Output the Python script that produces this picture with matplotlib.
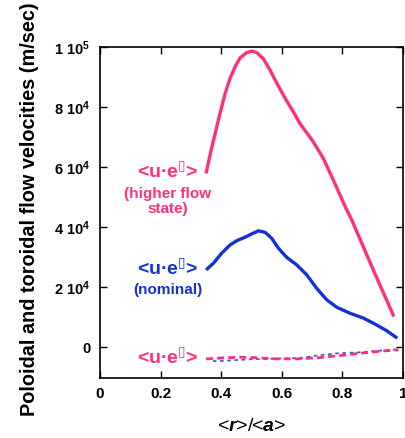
import matplotlib
matplotlib.use("Agg")
import matplotlib.pyplot as plt

plt.rcParams['font.family'] = ['Liberation Sans', 'DejaVu Sans']
plt.rcParams['font.weight'] = 'bold'
plt.rcParams['mathtext.fontset'] = 'custom'
plt.rcParams['mathtext.rm'] = 'Liberation Sans:bold'
plt.rcParams['mathtext.bf'] = 'Liberation Sans:bold'
plt.rcParams['mathtext.it'] = 'Liberation Sans:bold:italic'
plt.rcParams['mathtext.sf'] = 'DejaVu Sans:bold'

# higher flow state (toroidal), solid pink
r_high = [0.350, 0.363, 0.380, 0.396, 0.413, 0.429, 0.446, 0.462, 0.484,
          0.501, 0.517, 0.539, 0.561, 0.584, 0.611, 0.638, 0.660, 0.704,
          0.737, 0.770, 0.809, 0.831, 0.902, 0.970]
u_high = [57900, 64000, 71200, 77900, 84500, 89500, 93400, 96300, 98100,
          98600, 98100, 96100, 92300, 87800, 82900, 78400, 74500, 68400,
          62900, 55700, 46900, 42400, 25800, 10300]

# nominal (toroidal), solid blue
r_nom = [0.350, 0.374, 0.402, 0.429, 0.451, 0.479, 0.501, 0.523, 0.545,
         0.567, 0.589, 0.616, 0.649, 0.682, 0.715, 0.748, 0.781, 0.825,
         0.869, 0.913, 0.946, 0.981]
u_nom = [25800, 28000, 31400, 34100, 35500, 36700, 37800, 38800, 38300,
         36300, 33000, 30000, 27500, 24200, 19700, 15900, 13400, 11400,
         9800, 7500, 5600, 3100]

# poloidal, higher flow state (pink dashed)
r_pol_high = [0.350, 0.400, 0.460, 0.520, 0.580, 0.650, 0.720, 0.790, 0.860, 0.930, 0.985]
u_pol_high = [-3800, -3500, -3200, -3400, -3800, -3800, -3400, -2700, -1900, -1200, -800]

# poloidal, nominal (blue dotted)
r_pol_nom = [0.350, 0.380, 0.430, 0.500, 0.580, 0.660, 0.720, 0.790, 0.860, 0.930, 0.985]
u_pol_nom = [-3600, -4600, -4300, -3900, -3700, -3500, -2600, -1900, -1600, -1000, -600]

pink = '#ff2f7a'
blue = '#1232d8'

yticks = [0, 20000, 40000, 60000, 80000, 100000]
ytick_labels = ['0', '$2\\ 10^4$', '$4\\ 10^4$', '$6\\ 10^4$', '$8\\ 10^4$', '$1\\ 10^5$']
xticks = [0, 0.2, 0.4, 0.6, 0.8, 1.0]
xtick_labels = ['0', '0.2', '0.4', '0.6', '0.8', '1']

fig = plt.figure(figsize=(4.05, 4.38), dpi=100)
ax = fig.add_axes([0.247, 0.138, 0.748, 0.755])

ax.plot(r_high, u_high, color=pink, lw=2.4, solid_capstyle='butt', solid_joinstyle='round')
ax.plot(r_nom, u_nom, color=blue, lw=2.4, solid_capstyle='butt', solid_joinstyle='round')
ax.plot(r_pol_nom, u_pol_nom, color=blue, lw=1.3, ls=(0, (2, 2)), alpha=0.8)
ax.plot(r_pol_high, u_pol_high, color=pink, lw=2.0, ls=(0, (2.5, 1.5)))

ax.set_xlim(0, 1)
ax.set_ylim(-10000, 100000)
ax.set_xticks(xticks)
ax.set_xticklabels(xtick_labels, fontsize=11, fontweight='bold')
ax.set_yticks(yticks)
ax.set_yticklabels(ytick_labels, fontsize=10.5)
ax.tick_params(direction='in', top=True, right=True, length=5, width=1, pad=7)
for s in ax.spines.values():
    s.set_linewidth(1.2)

ax.set_ylabel('Poloidal and toroidal flow velocities (m/sec)', fontsize=14.3,
              fontweight='bold')
ax.yaxis.set_label_coords(-0.202, 0.508)
ax.set_xlabel('<$r$>/<$a$>', fontsize=14, labelpad=12)

lab = '<u·e$^{\\mathsf{\u25af}}$>'
ax.text(0.224, 58500, lab, color=pink, fontsize=14, ha='center', va='center')
ax.text(0.224, 48500, '(higher flow\nstate)', color=pink, fontsize=11,
        ha='center', va='center', linespacing=1.05, fontweight='bold')
ax.text(0.224, 26000, lab, color=blue, fontsize=14, ha='center', va='center')
ax.text(0.224, 19000, '(nominal)', color=blue, fontsize=11, ha='center',
        va='center', fontweight='bold')
ax.text(0.224, -3500, lab, color=pink, fontsize=14, ha='center', va='center')

fig.savefig('out.png', dpi=100)
